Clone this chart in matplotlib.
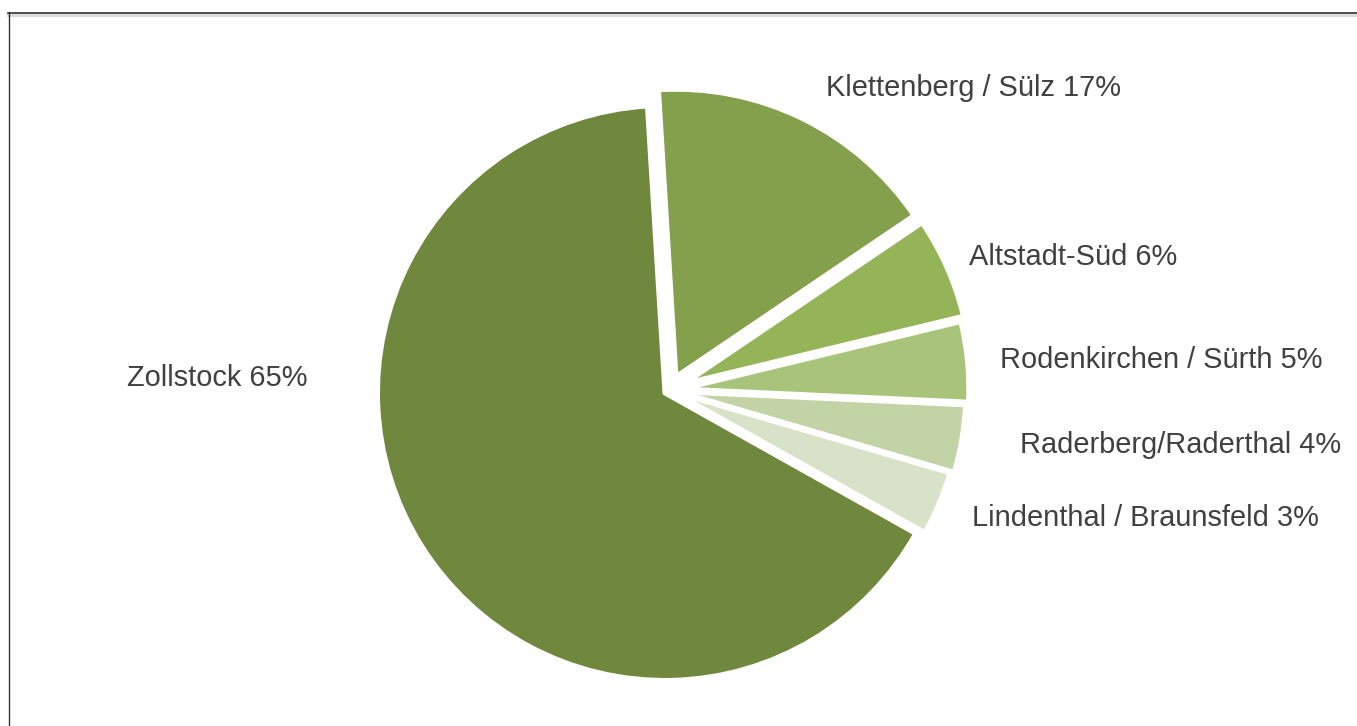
import matplotlib
matplotlib.use("Agg")
import matplotlib.pyplot as plt
from matplotlib.lines import Line2D

# Data
districts = ["Klettenberg / Sülz", "Altstadt-Süd", "Rodenkirchen / Sürth",
             "Raderberg/Raderthal", "Lindenthal / Braunsfeld", "Zollstock"]
shares = [16.5, 5.7, 4.5, 3.8, 3.6, 65.9]
pct_labels = [17, 6, 5, 4, 3, 65]
colors = ["#84A04C", "#95B458", "#A9C47A", "#C2D3A6", "#D7E2C8", "#70883E"]

W, H = 1357, 726
fig = plt.figure(figsize=(W / 100, H / 100), dpi=100)

# axes in pixel units, origin at pixel (665, 393) from top-left
cx, cy = 665, 393
half = 300
ax = fig.add_axes([(cx - half) / W, (H - cy - half) / H, 2 * half / W, 2 * half / H])

R = 287.5
explode = [15, 16, 12, 9, 5, 5.2]
ax.pie(shares, colors=colors, startangle=93.5, counterclock=False,
       radius=R, explode=explode, center=(4.4, 2.8), frame=True,
       wedgeprops=dict(edgecolor="white", linewidth=3.6, joinstyle="miter"))
ax.set_xlim(-half, half)
ax.set_ylim(-half, half)
ax.set_aspect("equal")
ax.axis("off")

# label positions (pixel offsets from origin: x / baseline y); Zollstock right-aligned
label_pos = [(161, 297, "left"), (304, 128, "left"), (335, 25, "left"),
             (355, -60, "left"), (307, -133, "left"), (-357, 7, "right")]
for name, p, (lx, ly, ha) in zip(districts, pct_labels, label_pos):
    ax.text(lx, ly, f"{name} {p}%", ha=ha, va="baseline", fontsize=20.9,
            color="#404040", family="Liberation Sans", clip_on=False)

# frame (cropped chart border)
def px(x, y):
    return x / W, 1 - y / H
fig.add_artist(Line2D([px(8, 0)[0], 1.0], [px(0, 14.5)[1]] * 2, color="#dcdcdc", lw=2.2))
fig.add_artist(Line2D([px(8, 0)[0], 1.0], [px(0, 12.5)[1]] * 2, color="#333333", lw=1.2))
fig.add_artist(Line2D([px(8.5, 0)[0]] * 2, [px(0, 12)[1], 0], color="#333333", lw=1.0))

fig.savefig("out.png", dpi=100, facecolor="white")
